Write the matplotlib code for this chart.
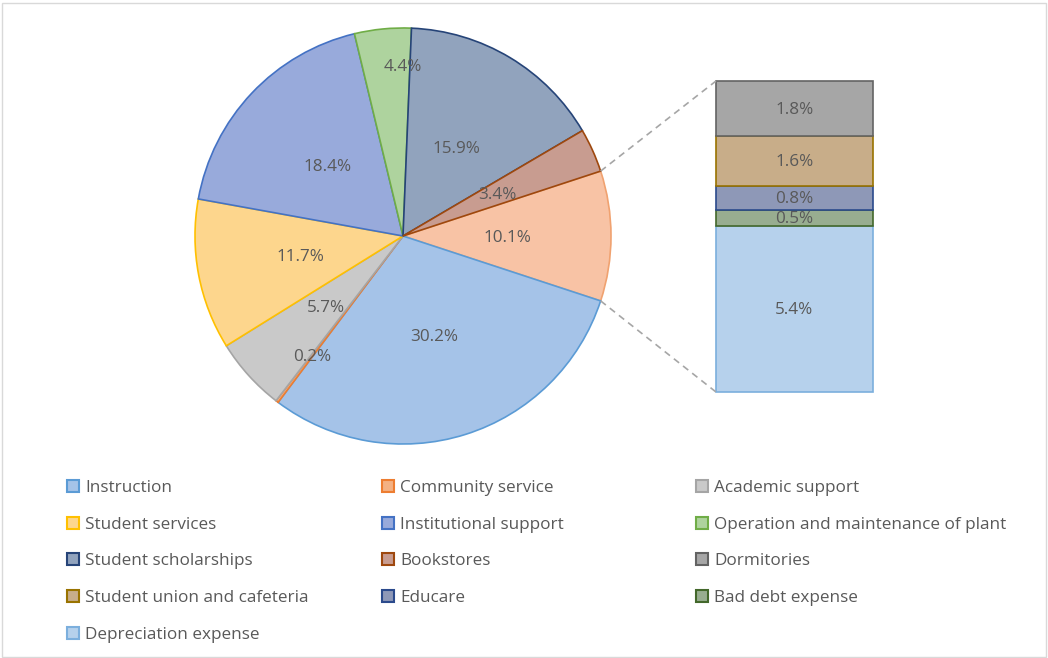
import matplotlib.pyplot as plt
from matplotlib.patches import Patch, Rectangle
import numpy as np

plt.rcParams['font.family'] = ['Open Sans', 'DejaVu Sans']

# pie slices, clockwise starting from the combined "other" slice
pie_labels = ['Other', 'Instruction', 'Community service', 'Academic support',
              'Student services', 'Institutional support',
              'Operation and maintenance of plant', 'Student scholarships', 'Bookstores']
pie_values = [10.1, 30.2, 0.2, 5.7, 11.7, 18.4, 4.4, 15.9, 3.4]
pie_fill = ['#F8C3A5', '#A5C3E8', '#F4B183', '#C9C9C9', '#FDD68D', '#98AADB',
            '#AED39E', '#91A3BD', '#C89C90']
pie_edge = ['#F0A270', '#5B9BD5', '#ED7D31', '#A5A5A5', '#FFC000', '#4472C4',
            '#70AD47', '#264478', '#9E480E']

# bar of the "other" slice, bottom to top
bar_labels = ['Depreciation expense', 'Bad debt expense', 'Educare',
              'Student union and cafeteria', 'Dormitories']
bar_values = [5.4, 0.5, 0.8, 1.6, 1.8]
bar_fill = ['#B6D1EC', '#98AD90', '#8E98B7', '#C8AD89', '#A6A6A6']
bar_edge = ['#7CAFDD', '#43682B', '#2B4A8C', '#997300', '#636363']

txt = '#595959'
fs = 12.3

fig = plt.figure(figsize=(10.48, 6.58), dpi=100)
ax = fig.add_axes([0, 0, 1, 1])

cx, cy, R = 403, 422, 208
start = pie_values[0] / sum(pie_values) * 180
wedges, _ = ax.pie(pie_values, colors=pie_fill, startangle=start, counterclock=False,
                   center=(cx, cy), radius=R, wedgeprops=dict(linewidth=1.2))
for w, ec in zip(wedges, pie_edge):
    w.set_edgecolor(ec)

# label positions (fraction of radius), Excel pushes a couple outward
dist = {6: 0.82, 2: 0.72}
for i, w in enumerate(wedges):
    mid = np.deg2rad((w.theta1 + w.theta2) / 2)
    if i == 6:
        mid = np.deg2rad(90)
    d = dist.get(i, 0.5) * R
    ax.text(cx + d * np.cos(mid), cy + d * np.sin(mid) - 2, f'{pie_values[i]:.1f}%',
            ha='center', va='center', fontsize=fs, color=txt)

# stacked bar
scale = 311 / sum(bar_values)
bx, bw, by = 794.5, 157, 266
bottom = by
for v, fc, ec in zip(bar_values, bar_fill, bar_edge):
    ax.bar(bx, v * scale, width=bw, bottom=bottom, color=fc, edgecolor=ec, linewidth=1.2)
    ax.text(bx, bottom + v * scale / 2 - 1, f'{v:.1f}%', ha='center', va='center',
            fontsize=fs, color=txt)
    bottom += v * scale
top = bottom

# connector lines
w0 = wedges[0]
for ang, yy in [(w0.theta2, top), (w0.theta1, by)]:
    a = np.deg2rad(ang)
    ax.plot([cx + R * np.cos(a), bx - bw / 2], [cy + R * np.sin(a), yy],
            ls=(0, (4, 3)), color='#A6A6A6', lw=1.2)

ax.set_xlim(0, 1048)
ax.set_ylim(0, 658)
ax.set_aspect('equal')
ax.axis('off')

# legend, filled row by row in three columns
all_labels = pie_labels[1:] + bar_labels[::-1]
all_fill = pie_fill[1:] + bar_fill[::-1]
all_edge = pie_edge[1:] + bar_edge[::-1]
col_x = [67, 382, 696]
for c in range(3):
    idx = list(range(c, len(all_labels), 3))
    handles = [Patch(facecolor=all_fill[i], edgecolor=all_edge[i], lw=1.5) for i in idx]
    fig.legend(handles, [all_labels[i] for i in idx], loc='upper left',
               bbox_to_anchor=(col_x[c] / 1048, 1 - 480 / 658), frameon=False,
               fontsize=fs, labelcolor=txt, handlelength=0.7, handleheight=0.7,
               handletextpad=0.35, labelspacing=1.21, borderpad=0, borderaxespad=0)

fig.patches.append(Rectangle((0.002, 0.002), 0.996, 0.994, transform=fig.transFigure,
                             fill=False, edgecolor='#D9D9D9', lw=1))

fig.savefig('out.png', dpi=100)
